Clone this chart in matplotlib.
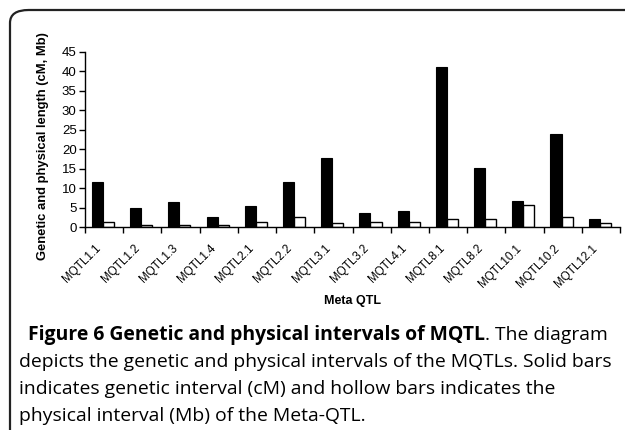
import matplotlib
matplotlib.use("Agg")
import matplotlib.pyplot as plt
import numpy as np
from matplotlib.patches import FancyBboxPatch
from matplotlib.transforms import ScaledTranslation

categories = ["MQTL1.1", "MQTL1.2", "MQTL1.3", "MQTL1.4", "MQTL2.1", "MQTL2.2",
              "MQTL3.1", "MQTL3.2", "MQTL4.1", "MQTL8.1", "MQTL8.2", "MQTL10.1",
              "MQTL10.2", "MQTL12.1"]
genetic_cM = [11.7, 4.9, 6.4, 2.5, 5.5, 11.7, 17.8, 3.6, 4.0, 41.1, 15.2, 6.6, 23.9, 2.0]
physical_Mb = [1.2, 0.4, 0.4, 0.4, 1.4, 2.5, 1.0, 1.3, 1.4, 2.0, 2.0, 5.6, 2.7, 1.0]
yticks = list(range(0, 50, 5))

W, H = 625, 430
fig = plt.figure(figsize=(W / 100, H / 100), dpi=100)
fig.patch.set_facecolor("white")

def px(x, y):
    return x / W, 1 - y / H

frame = FancyBboxPatch((10 / W, -0.2), 1.2, 1 - 10 / H + 0.2,
                       boxstyle="round,pad=0,rounding_size=0.03",
                       transform=fig.transFigure, fill=False,
                       edgecolor="#222222", linewidth=1.6, clip_on=False)
fig.patches.append(frame)

ax_l, ax_r, ax_b, ax_t = 85, 620, 227, 52
ax = fig.add_axes([ax_l / W, 1 - ax_b / H, (ax_r - ax_l) / W, (ax_b - ax_t) / H])

x = np.arange(len(categories))
bw = 0.29
ax.bar(x - 0.175, genetic_cM, width=bw, color="black", edgecolor="black", linewidth=0.8)
ax.bar(x + 0.115, physical_Mb, width=bw, color="white", edgecolor="black", linewidth=1.0)

ax.set_xlim(-0.5, len(categories) - 0.5)
ax.set_ylim(0, 45)
ax.set_yticks(yticks)
for s in ["top", "right"]:
    ax.spines[s].set_visible(False)
for s in ["left", "bottom"]:
    ax.spines[s].set_linewidth(1.0)

ax.set_xticks(np.arange(len(categories) + 1) - 0.5)
ax.set_xticklabels([])
ax.set_xticks(x, minor=True)
ax.set_xticklabels(categories, minor=True, rotation=45, ha="right", va="top",
                   rotation_mode="anchor", fontsize=8.4, family="Liberation Sans")
ax.tick_params(axis="x", which="major", direction="out", length=4, width=1)
ax.tick_params(axis="x", which="minor", length=0, pad=11)
ax.tick_params(axis="y", direction="out", length=4, width=1, pad=2, labelsize=9.5)
for lab in ax.get_yticklabels():
    lab.set_family("Liberation Sans")
off = ScaledTranslation(-9 / 100, 0, fig.dpi_scale_trans)
for lab in ax.get_xticklabels(minor=True):
    lab.set_transform(lab.get_transform() + off)

fig.text(*px(43, 146), "Genetic and physical length (cM, Mb)", rotation=90,
         ha="center", va="center", fontsize=9.4, fontweight="bold",
         family="Liberation Sans")
fig.text(*px(352, 301), "Meta QTL", ha="center", va="center", fontsize=9,
         fontweight="bold", family="Liberation Sans")

# caption; size fitted so that the second line spans the reference width
lines = ["depicts the genetic and physical intervals of the MQTLs. Solid bars",
         "indicates genetic interval (cM) and hollow bars indicates the",
         "physical interval (Mb) of the Meta-QTL."]
renderer = fig.canvas.get_renderer()
probe = fig.text(0, 0, lines[0], fontsize=10, family="Open Sans")
w10 = probe.get_window_extent(renderer).width
probe.remove()
cap_fs = 10 * (612 - 19) / w10

t1 = fig.text(*px(28, 340), "Figure 6 Genetic and physical intervals of MQTL",
              fontsize=cap_fs, fontweight="bold", family="Open Sans",
              ha="left", va="baseline")
ext = t1.get_window_extent(renderer)
fig.text(ext.x1 / W, 1 - 340 / H, ". The diagram", fontsize=cap_fs,
         family="Open Sans", ha="left", va="baseline")
for i, ln in enumerate(lines):
    fig.text(*px(19, 367 + 27 * i), ln, fontsize=cap_fs, family="Open Sans",
             ha="left", va="baseline")

fig.savefig("out.png", dpi=100)
